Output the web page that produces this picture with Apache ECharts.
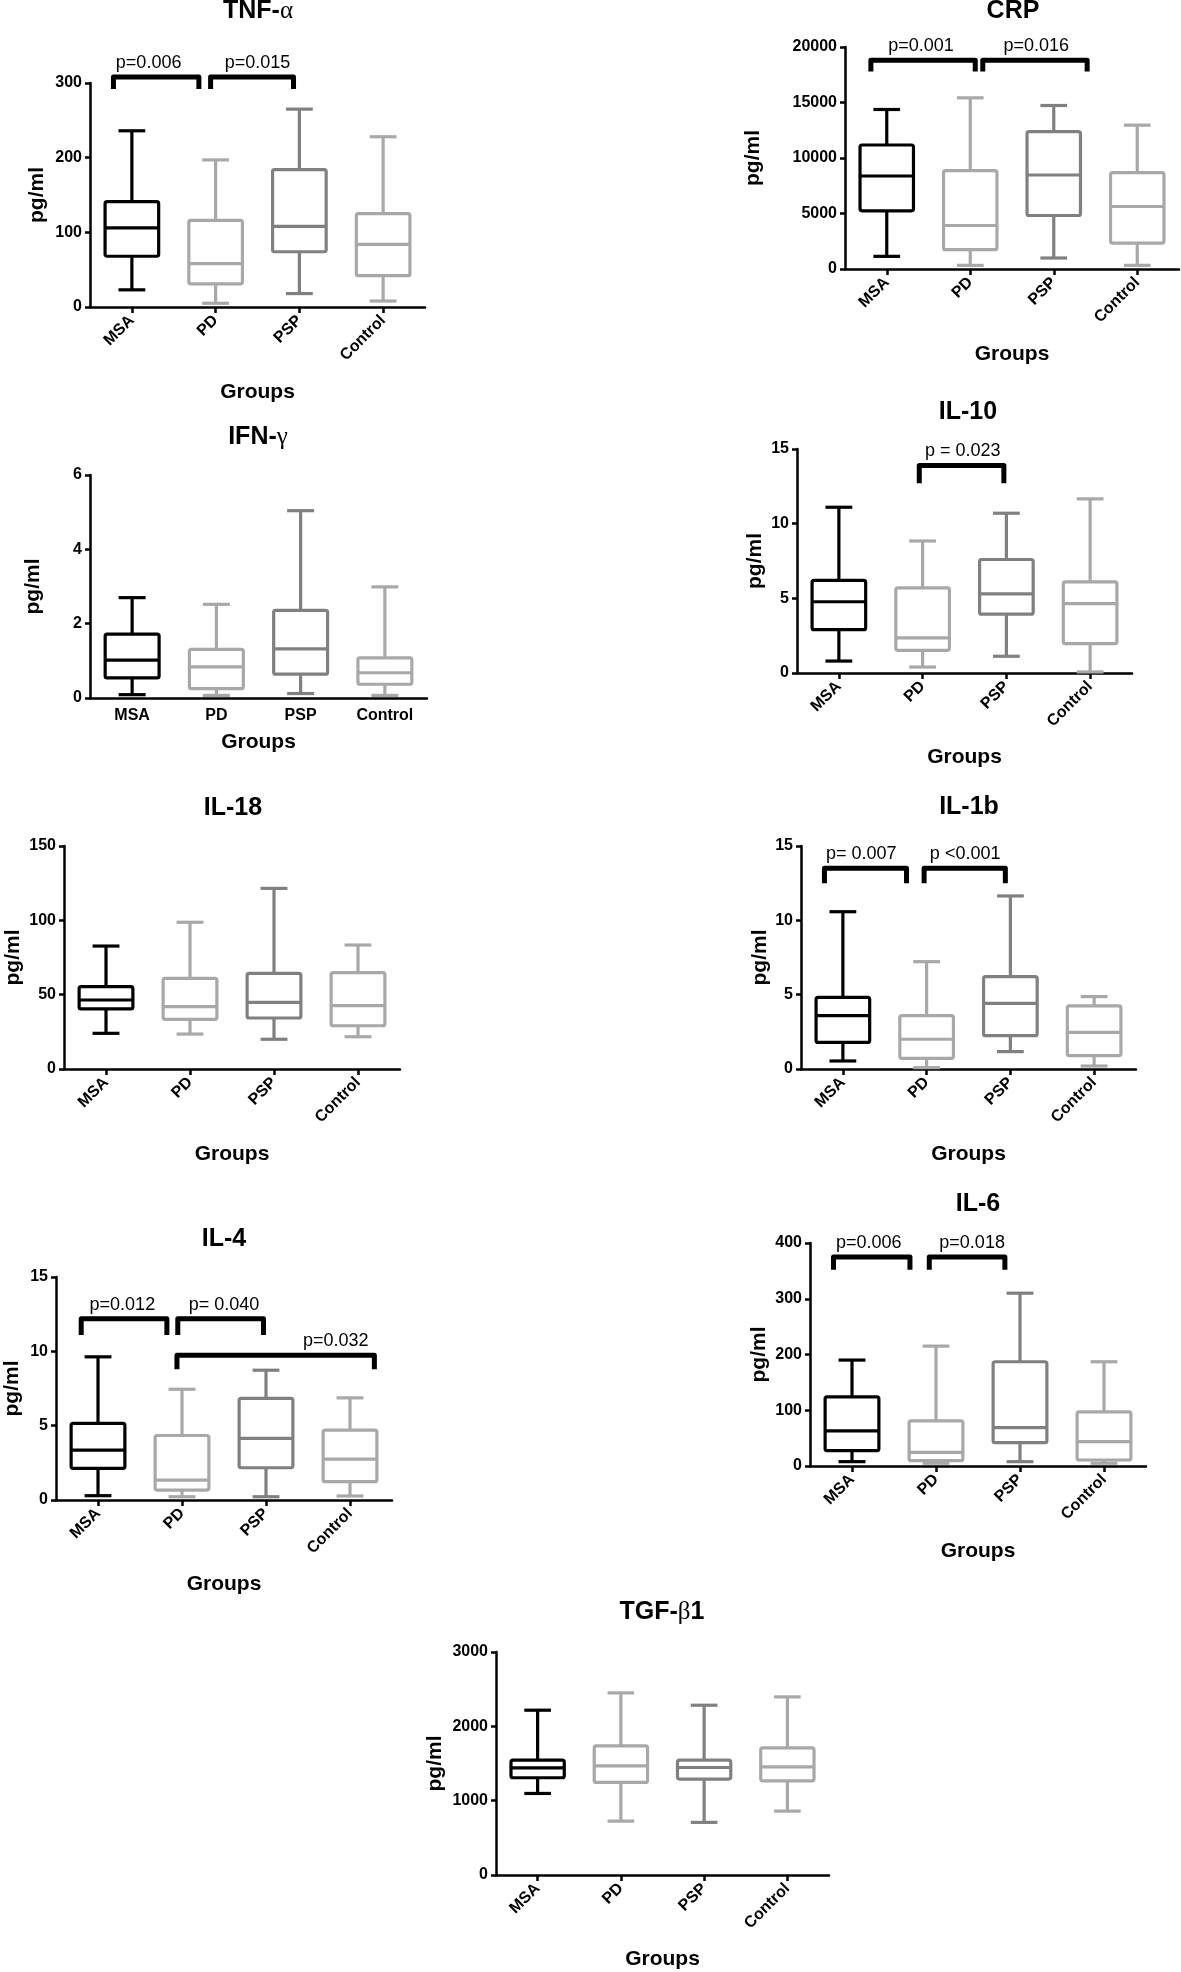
<!DOCTYPE html>
<html>
<head>
<meta charset="utf-8">
<title>Cytokine levels by group</title>
<script src="https://cdn.jsdelivr.net/npm/echarts@6/dist/echarts.min.js"></script>
<style>
  html, body { margin: 0; padding: 0; background: #fff; }
  #chart { width: 1181px; height: 1972px; }
</style>
</head>
<body>
<div id="chart"></div>
<script>
// groups on every x axis
const groups = ["MSA", "PD", "PSP", "Control"];

// box values per group: [min, Q1, median, Q3, max]  (pg/ml)
const tnfBoxes = [
  [23, 68, 106, 141, 236],
  [5, 31, 58, 116, 197],
  [18, 74, 108, 184, 265],
  [8, 42, 84, 125, 228]
];
const crpBoxes = [
  [1140, 5240, 8380, 11170, 14370],
  [330, 1740, 3920, 8860, 15420],
  [990, 4820, 8470, 12370, 14730],
  [330, 2340, 5630, 8680, 12960]
];
const ifnBoxes = [
  [0.09, 0.54, 1.02, 1.72, 2.70],
  [0.07, 0.25, 0.84, 1.31, 2.52],
  [0.12, 0.64, 1.32, 2.36, 5.04],
  [0.07, 0.37, 0.68, 1.08, 2.99]
];
const il10Boxes = [
  [0.8, 2.9, 4.77, 6.2, 11.1],
  [0.4, 1.52, 2.35, 5.7, 8.84],
  [1.12, 3.94, 5.3, 7.6, 10.7],
  [0.07, 1.97, 4.65, 6.1, 11.66]
];
const il18Boxes = [
  [24, 40.4, 46.4, 55.4, 82.7],
  [23.5, 33.4, 42, 61, 98.7],
  [20, 34.3, 44.8, 64.3, 121.5],
  [21.7, 29.1, 42.6, 64.8, 83.4]
];
const il1bBoxes = [
  [0.54, 1.79, 3.59, 4.82, 10.58],
  [0.09, 0.72, 2.0, 3.59, 7.22],
  [1.17, 2.24, 4.42, 6.21, 11.64],
  [0.2, 0.9, 2.47, 4.24, 4.87]
];
const il4Boxes = [
  [0.29, 2.13, 3.36, 5.15, 9.63],
  [0.22, 0.67, 1.34, 4.34, 7.45],
  [0.22, 2.17, 4.14, 6.83, 8.73],
  [0.27, 1.23, 2.75, 4.7, 6.87]
];
const il6Boxes = [
  [7.8, 27.5, 63, 124, 190],
  [5, 9.6, 24.5, 81, 215],
  [7.8, 41.8, 68.7, 187, 310],
  [5, 10.8, 43.6, 97, 187]
];
const tgfBoxes = [
  [1097, 1308, 1442, 1545, 2217],
  [725, 1245, 1469, 1737, 2450],
  [708, 1290, 1446, 1545, 2284],
  [860, 1267, 1455, 1711, 2396]
];

// significance brackets: from/to/textAt in category units (0 = MSA), top/leg in pg/ml
const tnfBrackets = [
  { label: "p=0.006", from: -0.22, to: 0.8, textAt: 0.2, top: 308, leg: 292 },
  { label: "p=0.015", from: 0.94, to: 1.93, textAt: 1.5, top: 308, leg: 292 }
];
const crpBrackets = [
  { label: "p=0.001", from: -0.19, to: 1.06, textAt: 0.41, top: 18800, leg: 17800 },
  { label: "p=0.016", from: 1.15, to: 2.4, textAt: 1.79, top: 18800, leg: 17800 }
];
const il10Brackets = [
  { label: "p = 0.023", from: 0.96, to: 1.97, textAt: 1.48, top: 13.9, leg: 12.7 }
];
const il1bBrackets = [
  { label: "p= 0.007", from: -0.22, to: 0.76, textAt: 0.22, top: 13.5, leg: 12.5 },
  { label: "p <0.001", from: 0.97, to: 1.94, textAt: 1.46, top: 13.5, leg: 12.5 }
];
const il4Brackets = [
  { label: "p=0.012", from: -0.2, to: 0.82, textAt: 0.29, top: 12.2, leg: 11.1 },
  { label: "p= 0.040", from: 0.95, to: 1.97, textAt: 1.5, top: 12.2, leg: 11.1 },
  { label: "p=0.032", from: 0.94, to: 3.29, textAt: 2.83, top: 9.74, leg: 8.8 }
];
const il6Brackets = [
  { label: "p=0.006", from: -0.22, to: 0.69, textAt: 0.2, top: 375, leg: 352 },
  { label: "p=0.018", from: 0.92, to: 1.82, textAt: 1.43, top: 375, leg: 352 }
];

const FONT = "'Liberation Sans', Arial, sans-serif";
const groupColors = ["#000000", "#a8a8a8", "#808080", "#a8a8a8"];

// one entry per small chart
const panels = [
  { title: "TNF-{g|α}", boxes: tnfBoxes, brackets: tnfBrackets, max: 300, step: 100,
    left: 90, top: 83, width: 335, height: 224, titleX: 258, titleY: -1, yGap: 42, xGap: 75, rotate: true },
  { title: "CRP", boxes: crpBoxes, brackets: crpBrackets, max: 20000, step: 5000,
    left: 845, top: 47, width: 334, height: 222, titleX: 1013, titleY: -1, yGap: 81, xGap: 75, rotate: true },
  { title: "IFN-{g|γ}", boxes: ifnBoxes, brackets: [], max: 6, step: 2,
    left: 90, top: 475, width: 337, height: 223, titleX: 258, titleY: 425, yGap: 46, xGap: 34, rotate: false },
  { title: "IL-10", boxes: il10Boxes, brackets: il10Brackets, max: 15, step: 5,
    left: 797, top: 449, width: 335, height: 224, titleX: 968, titleY: 400, yGap: 31, xGap: 74, rotate: true },
  { title: "IL-18", boxes: il18Boxes, brackets: [], max: 150, step: 50,
    left: 64, top: 846, width: 336, height: 223, titleX: 233, titleY: 796, yGap: 40, xGap: 75, rotate: true },
  { title: "IL-1b", boxes: il1bBoxes, brackets: il1bBrackets, max: 15, step: 5,
    left: 801, top: 846, width: 335, height: 223, titleX: 969, titleY: 795, yGap: 30, xGap: 75, rotate: true },
  { title: "IL-4", boxes: il4Boxes, brackets: il4Brackets, max: 15, step: 5,
    left: 56, top: 1277, width: 336, height: 223, titleX: 224, titleY: 1227, yGap: 33, xGap: 74, rotate: true },
  { title: "IL-6", boxes: il6Boxes, brackets: il6Brackets, max: 400, step: 100,
    left: 810, top: 1243, width: 336, height: 223, titleX: 978, titleY: 1192, yGap: 40, xGap: 75, rotate: true },
  { title: "TGF-{g|β}1", boxes: tgfBoxes, brackets: [], max: 3000, step: 1000,
    left: 496, top: 1652, width: 333, height: 223, titleX: 662, titleY: 1600, yGap: 50, xGap: 74, rotate: true }
];

// box + whiskers, caps half as wide as the box
function renderBox(params, api) {
  const i = api.value(0);
  const low = api.coord([i, api.value(1)]);
  const q1 = api.coord([i, api.value(2)]);
  const med = api.coord([i, api.value(3)]);
  const q3 = api.coord([i, api.value(4)]);
  const high = api.coord([i, api.value(5)]);
  const band = api.size([1, 0])[0];
  const bw = band * 0.64;
  const cw = band * 0.32;
  const x = med[0];
  const style = { stroke: groupColors[i], lineWidth: 3.2, fill: "none", lineCap: "butt" };
  return {
    type: "group",
    children: [
      { type: "line", shape: { x1: x, y1: high[1], x2: x, y2: q3[1] }, style },
      { type: "line", shape: { x1: x, y1: q1[1], x2: x, y2: low[1] }, style },
      { type: "line", shape: { x1: x - cw / 2, y1: high[1], x2: x + cw / 2, y2: high[1] }, style },
      { type: "line", shape: { x1: x - cw / 2, y1: low[1], x2: x + cw / 2, y2: low[1] }, style },
      { type: "rect", shape: { x: x - bw / 2, y: q3[1], width: bw, height: q1[1] - q3[1], r: 2 }, style },
      { type: "line", shape: { x1: x - bw / 2, y1: med[1], x2: x + bw / 2, y2: med[1] }, style }
    ]
  };
}

function bracketRenderer(list) {
  return function (params, api) {
    const b = list[params.dataIndex];
    const band = api.size([1, 0])[0];
    const topPt = api.coord([0, api.value(1)]);
    const yLeg = api.coord([0, api.value(2)])[1];
    const x0 = topPt[0];
    const xa = x0 + b.from * band;
    const xb = x0 + b.to * band;
    return {
      type: "group",
      children: [
        { type: "polyline",
          shape: { points: [[xa, yLeg], [xa, topPt[1]], [xb, topPt[1]], [xb, yLeg]] },
          style: { stroke: "#000", lineWidth: 5, fill: "none", lineJoin: "round" } },
        { type: "text", x: x0 + b.textAt * band, y: topPt[1] - 5,
          style: { text: b.label, fontSize: 18, fontFamily: FONT, fill: "#000",
                   align: "center", verticalAlign: "bottom" } }
      ]
    };
  };
}

const chart = echarts.init(document.getElementById("chart"));

const option = {
  animation: false,
  backgroundColor: "#fff",
  title: panels.map(p => ({
    text: p.title,
    left: p.titleX,
    top: p.titleY,
    textAlign: "center",
    padding: 0,
    textStyle: {
      fontFamily: FONT, fontWeight: "bold", fontSize: 25, color: "#000",
      rich: { g: { fontFamily: "'Liberation Serif', serif", fontWeight: "normal", fontSize: 25, color: "#000" } }
    }
  })),
  grid: panels.map(p => ({ left: p.left, top: p.top, width: p.width, height: p.height, containLabel: false })),
  xAxis: panels.map((p, i) => ({
    gridIndex: i,
    type: "category",
    data: groups,
    name: "Groups",
    nameLocation: "middle",
    nameGap: p.xGap,
    nameTextStyle: { fontFamily: FONT, fontWeight: "bold", fontSize: 21, color: "#000" },
    axisLine: { lineStyle: { color: "#000", width: 2.5 } },
    axisTick: { show: p.rotate, alignWithLabel: true, length: 6, lineStyle: { color: "#000", width: 2.5 } },
    axisLabel: {
      rotate: p.rotate ? 45 : 0, margin: p.rotate ? 11 : 10, interval: 0,
      fontFamily: FONT, fontWeight: "bold", fontSize: 16, color: "#000"
    },
    splitLine: { show: false }
  })),
  yAxis: panels.map((p, i) => ({
    gridIndex: i,
    type: "value",
    min: 0,
    max: p.max,
    interval: p.step,
    name: "pg/ml",
    nameLocation: "middle",
    nameRotate: 90,
    nameGap: p.yGap,
    nameTextStyle: { fontFamily: FONT, fontWeight: "bold", fontSize: 21, color: "#000" },
    axisLine: { show: true, lineStyle: { color: "#000", width: 2.5 } },
    axisTick: { show: true, length: 5, lineStyle: { color: "#000", width: 2.5 } },
    axisLabel: {
      margin: 8, fontFamily: FONT, fontWeight: "bold", fontSize: 16, color: "#000",
      formatter: v => String(v)
    },
    splitLine: { show: false }
  })),
  series: panels.flatMap((p, i) => {
    const out = [{
      type: "custom",
      xAxisIndex: i,
      yAxisIndex: i,
      renderItem: renderBox,
      encode: { x: 0, y: [1, 2, 3, 4, 5] },
      data: p.boxes.map((b, g) => [g].concat(b)),
      clip: false
    }];
    if (p.brackets.length) {
      out.push({
        type: "custom",
        xAxisIndex: i,
        yAxisIndex: i,
        renderItem: bracketRenderer(p.brackets),
        encode: { x: 0, y: [1, 2] },
        data: p.brackets.map(b => [0, b.top, b.leg]),
        clip: false
      });
    }
    return out;
  })
};

chart.setOption(option);
</script>
</body>
</html>
